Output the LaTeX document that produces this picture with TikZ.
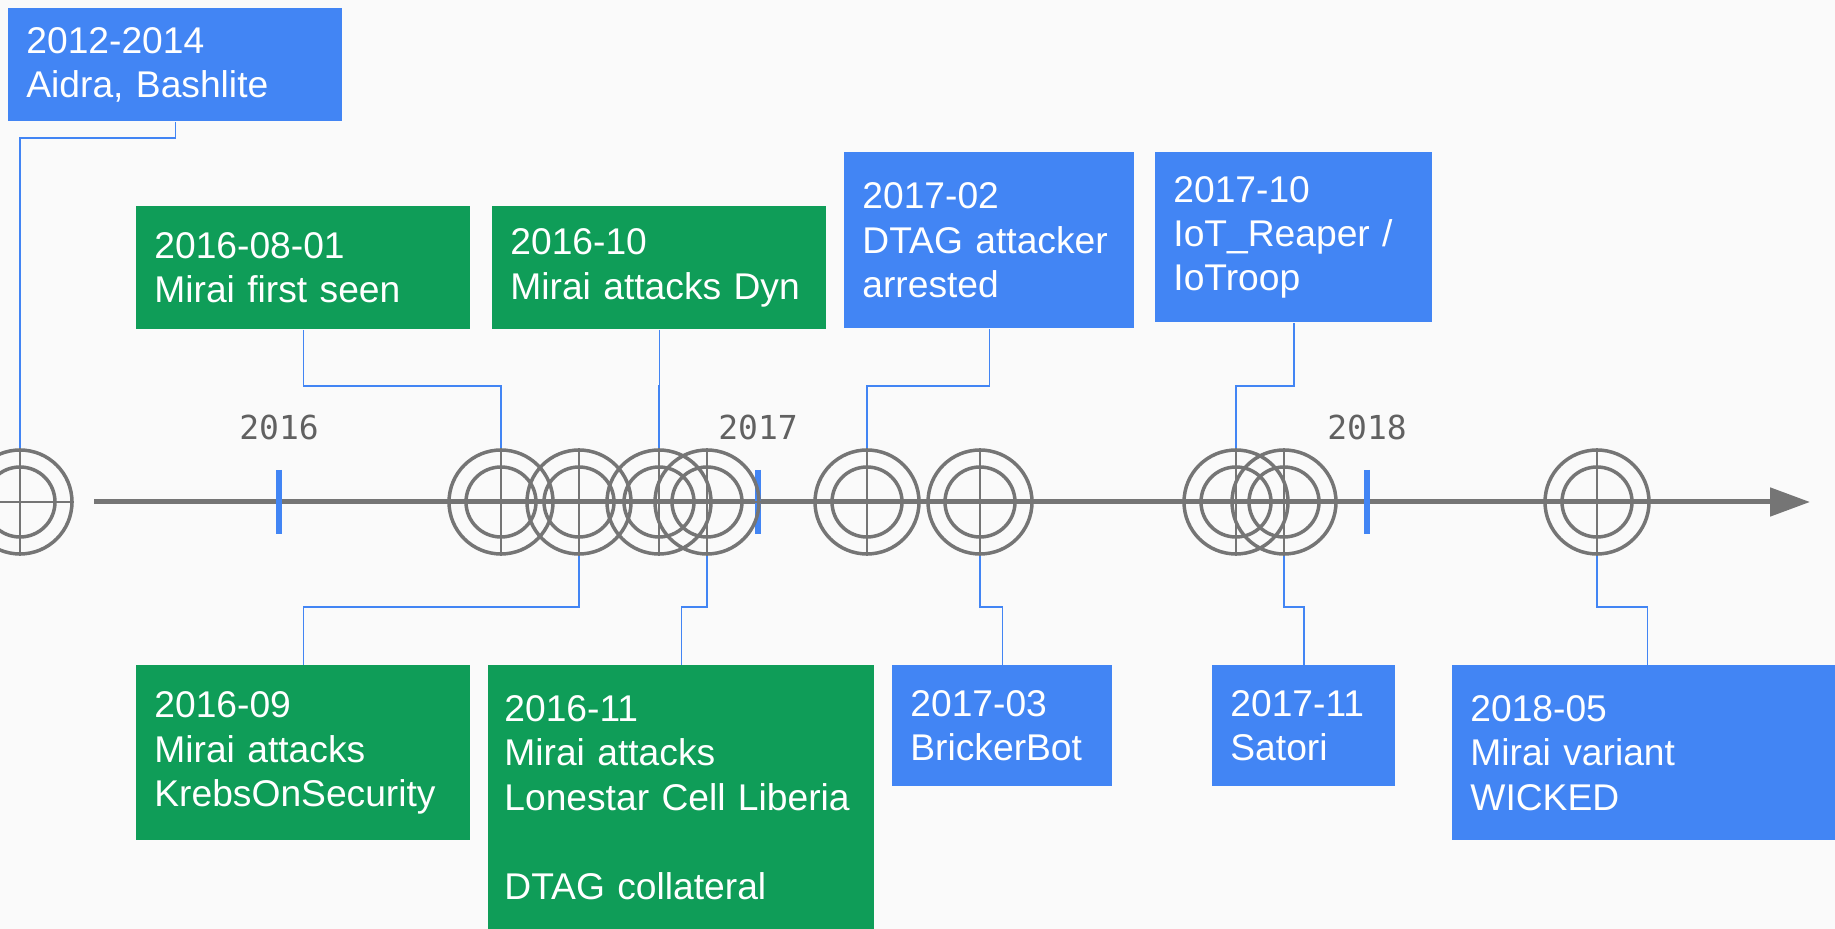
\documentclass[tikz,border=0pt]{standalone}
\usepackage{fontspec}
\usepackage{xcolor}
\usepackage{tikz}
\usetikzlibrary{arrows.meta, positioning}

\newfontfamily\evfont{Liberation Sans}
\newfontfamily\yearfont{DejaVu Sans Mono}

\definecolor{evblue}{HTML}{4285F4}
\definecolor{evgreen}{HTML}{0F9D58}
\definecolor{ringgray}{HTML}{757575}
\definecolor{yeargray}{HTML}{616161}
\definecolor{bggray}{HTML}{FAFAFA}

\tikzset{
  event/.style={rectangle, anchor=north west, inner xsep=9pt, inner ysep=0pt,
    align=left, text=white, font={\evfont\fontsize{18.6pt}{22.2pt}\selectfont}},
  blueev/.style={event, fill=evblue},
  greenev/.style={event, fill=evgreen},
  ring/.style={circle, draw=ringgray, line width=1.75pt, minimum size=52pt, inner sep=0pt},
  ringline/.style={draw=ringgray, line width=1pt},
  link/.style={draw=evblue, line width=0.8pt},
  yearlabel/.style={text=yeargray, font={\yearfont\fontsize{16.5pt}{18pt}\selectfont}},
  yeartick/.style={draw=evblue, line width=3pt},
}

\begin{document}
\begin{tikzpicture}[x=0.5pt, y=-0.5pt]
  % background
  \fill[bggray] (0,0) rectangle (1835,929);
  \useasboundingbox (0,0) rectangle (1835,929);

  % time axis
  \draw[ringgray, line width=2.5pt, -{Triangle[length=20pt, width=14pt]}] (94,502) -- (1810,502);

  % year ticks
  \foreach \yr/\x in {2016/279, 2017/758, 2018/1367}{
    \draw[yeartick] (\x,470) -- (\x,534);
    \node[yearlabel] (y\yr) at (\x,427) {\yr};
  }

  % markers
  \foreach \e/\x in {2012/20, 1608/501, 1609/579, 1610/659, 1611/707,
                     1702/867, 1703/980, 1710/1236, 1711/1284, 1805/1597}{
    \node[ring] (m\e) at (\x,502) {};
    \draw[ringgray, line width=1.75pt] (m\e.center) circle[radius=35];
    \draw[ringline] (m\e.north) -- (m\e.south) (m\e.west) -- (m\e.east);
  }

  % events above the axis
  \node[blueev, text width=149pt, minimum height=56.5pt] (e2012) at (8,8) {2012-2014\\Aidra, Bashlite};
  \node[greenev, text width=149pt, minimum height=61.5pt] (e1608) at (136,206) {2016-08-01\\Mirai first seen};
  \node[greenev, text width=149pt, minimum height=61.5pt] (e1610) at (492,206) {2016-10\\Mirai attacks Dyn};
  \node[blueev, text width=127pt, minimum height=88pt] (e1702) at (844,152) {2017-02\\DTAG attacker\\arrested};
  \node[blueev, text width=120.5pt, minimum height=85pt] (e1710) at (1155,152) {2017-10\\IoT\_Reaper /\\IoTroop};

  % events below the axis
  \node[greenev, text width=149pt, minimum height=87.5pt] (e1609) at (136,665) {2016-09\\Mirai attacks\\KrebsOnSecurity};
  \node[greenev, text width=177pt, inner xsep=8pt, minimum height=132pt] (e1611) at (488,665) {2016-11\\Mirai attacks\\Lonestar Cell Liberia\\\mbox{}\\DTAG collateral};
  \node[blueev, text width=92pt, minimum height=60.5pt] (e1703) at (892,665) {2017-03\\BrickerBot};
  \node[blueev, text width=73.5pt, minimum height=60.5pt] (e1711) at (1212,665) {2017-11\\Satori};
  \node[blueev, text width=177pt, minimum height=87.5pt] (e1805) at (1452,665) {2018-05\\Mirai variant\\WICKED};

  % connectors
  \coordinate (hfirst) at (0,138);
  \coordinate (hup) at (0,386);
  \coordinate (hdown) at (0,607);
  \draw[link] (e2012.south) -- (e2012.south |- hfirst) -| (m2012.north);
  \foreach \e in {1608,1610,1702,1710}{
    \draw[link] (e\e.south) -- (e\e.south |- hup) -| (m\e.north);
  }
  \foreach \e in {1609,1611,1703,1711,1805}{
    \draw[link] (m\e.south) -- (m\e.south |- hdown) -| (e\e.north);
  }
\end{tikzpicture}
\end{document}
